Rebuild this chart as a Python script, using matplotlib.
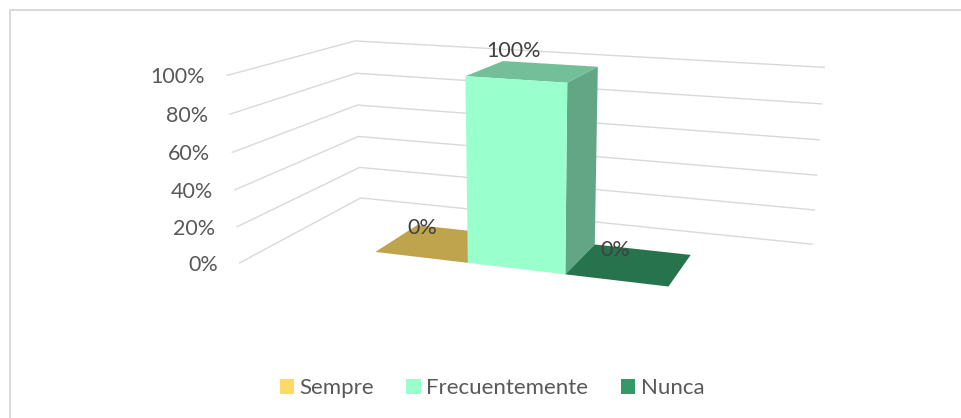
import numpy as np
import matplotlib
matplotlib.use('Agg')
import matplotlib.pyplot as plt
from matplotlib.patches import Polygon, Patch

categories = ['Sempre', 'Frecuentemente', 'Nunca']
values = [0, 1, 0]
value_labels = ['0%', '100%', '0%']
ticks = [0, 0.2, 0.4, 0.6, 0.8, 1.0]
tick_labels = ['0%', '20%', '40%', '60%', '80%', '100%']
colors = ['#FFD966', '#99FFCC', '#339966']

plt.rcParams['font.family'] = ['Lato', 'DejaVu Sans']

# camera fitted to the chart box: (x, depth, value) -> pixel
cam = np.array([[142.77847, 194.59243, -21.97195, 239.66744],
                [7.05461, -24.66841, -190.6742, 262.88201],
                [-0.0472, 0.20368, -0.04212, 1.0]])
x_max = 3
bar_start = 0.625
bar_width = 0.578
depth = (0.30, 0.692)
label_offsets = [(-38, -2), (-36, -13), (-27, 0)]


def project(x, d, v):
    p = cam @ np.array([x, d, v, 1.0])
    return p[:2] / p[2]


def shade(color, factor):
    return tuple(c * factor for c in matplotlib.colors.to_rgb(color))


fig = plt.figure(figsize=(9.62, 4.18), dpi=100)
ax = fig.add_axes([0, 0, 1, 1])
ax.set_xlim(0, 962)
ax.set_ylim(418, 0)
ax.axis('off')

# chart border, only top and left are in the picture
ax.plot([10, 10, 962], [418, 9.5, 9.5], color='#D9D9D9', lw=1.4, zorder=1)

for t, lab in zip(ticks, tick_labels):
    line = np.array([project(0, 0, t), project(0, 1, t), project(x_max, 1, t)])
    ax.plot(line[:, 0], line[:, 1], color='#D9D9D9', lw=1.0, zorder=2)
    ax.text(line[0, 0] - 22, line[0, 1] + 2, lab, ha='right', va='center', fontsize=15.5, color='#595959')

for i, (val, col) in enumerate(zip(values, colors)):
    x0 = bar_start + i * bar_width
    x1 = x0 + bar_width
    d0, d1 = depth
    top = [project(x0, d0, val), project(x1, d0, val), project(x1, d1, val), project(x0, d1, val)]
    ax.add_patch(Polygon(top, fc=shade(col, 0.75), lw=0, zorder=3))
    if val > 0:
        side = [project(x1, d0, 0), project(x1, d1, 0), project(x1, d1, val), project(x1, d0, val)]
        front = [project(x0, d0, 0), project(x1, d0, 0), project(x1, d0, val), project(x0, d0, val)]
        ax.add_patch(Polygon(side, fc=shade(col, 0.65), lw=0, zorder=3))
        ax.add_patch(Polygon(front, fc=col, lw=0, zorder=3))
    pos = project((x0 + x1) / 2, d1, val)
    off = label_offsets[i]
    ax.text(pos[0] + off[0], pos[1] + off[1], value_labels[i], ha='center', va='center',
            fontsize=15.5, color='#404040', zorder=4)

handles = [Patch(fc=c, lw=0, label=n) for c, n in zip(colors, categories)]
fig.legend(handles=handles, loc='center', bbox_to_anchor=(492 / 962, 1 - 388 / 418), ncol=3, frameon=False,
           fontsize=16, labelcolor='#595959', handlelength=0.65, handleheight=0.65,
           handletextpad=0.25, columnspacing=1.45)

fig.savefig('out.png', dpi=100)
